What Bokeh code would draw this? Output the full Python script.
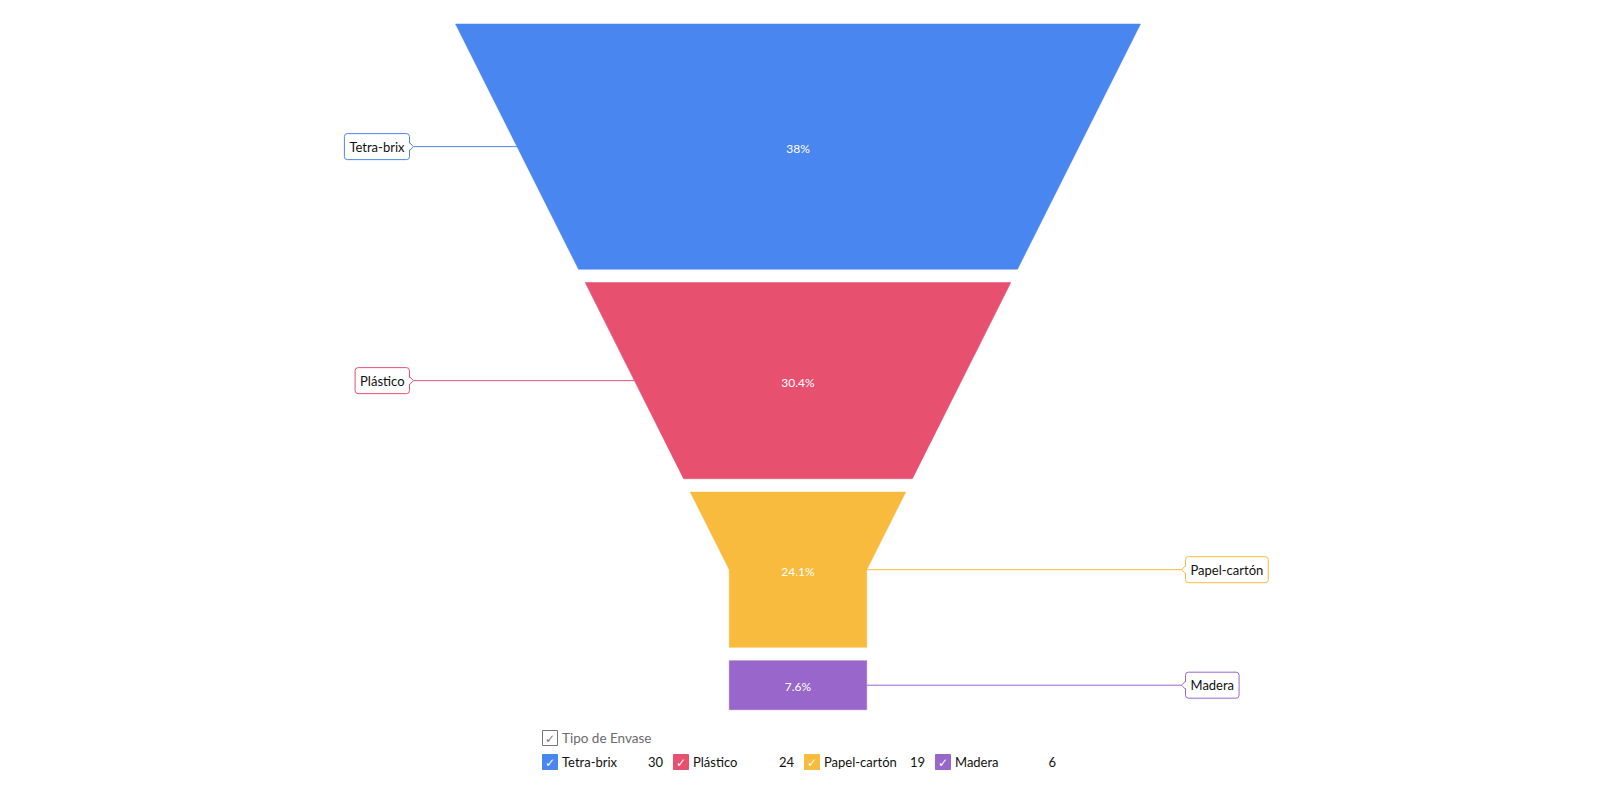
from bokeh.plotting import figure
from bokeh.models import Range1d, Label
from bokeh.embed import file_html
from bokeh.resources import INLINE
from bokeh.core.properties import value

# ---- data ----
categories = ["Tetra-brix", "Plástico", "Papel-cartón", "Madera"]
values = [30, 24, 19, 6]
colors = ["#4a86f0", "#e8506f", "#f9bb3d", "#9966cc"]
legend_title = "Tipo de Envase"

FONT = value("Lato")
W, H = 1600, 785
p = figure(width=W, height=H, x_range=Range1d(0, W), y_range=Range1d(H, 0),
           output_backend="svg", toolbar_location=None, min_border=0,
           x_axis_location=None, y_axis_location=None)
p.grid.visible = False
p.outline_line_color = None
p.background_fill_color = "white"

# ---- funnel geometry (screen-like units) ----
cx = 797.5
top = 23.5
total_h = 685.7
gap = 13.3
top_w = 685.0
neck_w = 137.5
neck_y = 569.3
slope = (top_w - neck_w) / 2 / (neck_y - top)


def half(y):
    return max(neck_w / 2, top_w / 2 - slope * (y - top))


total = sum(values)
avail = total_h - gap * (len(values) - 1)
y = top
for i, (cat, v, col) in enumerate(zip(categories, values, colors)):
    h = avail * v / total
    y0, y1 = y, y + h
    ys = [y0] + ([neck_y] if y0 < neck_y < y1 else []) + [y1]
    px = [cx - half(t) for t in ys] + [cx + half(t) for t in reversed(ys)]
    py = ys + list(reversed(ys))
    p.patch(px, py, fill_color=col, line_color=col, line_width=0.5)

    ym = (y0 + y1) / 2
    pct = v / total * 100
    s = f"{pct:.1f}".rstrip("0").rstrip(".") + "%"
    p.text([cx], [ym + 1.5], text=[s], text_color="white", text_font=FONT,
           text_font_size="12px", text_align="center", text_baseline="middle")

    if i < 2:
        bx = 409.0
        tip = bx + 4
        p.line([tip, cx - half(ym)], [ym, ym], line_color=col, line_width=1)
        lab = Label(x=bx, y=ym, text=cat, text_font="Lato", text_font_size="13px",
                    text_color="#111111", text_align="right", text_baseline="middle",
                    background_fill_color="white", border_line_color=col,
                    border_line_width=1, padding=5, border_radius=3)
        p.add_layout(lab)
        r1 = p.patch([bx - 1, tip, bx - 1], [ym - 4, ym, ym + 4], fill_color="white", line_color=None)
        r2 = p.line([bx, tip, bx], [ym - 4, ym, ym + 4], line_color=col, line_width=1)
    else:
        bx = 1185.0
        tip = bx - 4
        p.line([cx + half(ym), tip], [ym, ym], line_color=col, line_width=1)
        lab = Label(x=bx, y=ym, text=cat, text_font="Lato", text_font_size="13px",
                    text_color="#111111", text_align="left", text_baseline="middle",
                    background_fill_color="white", border_line_color=col,
                    border_line_width=1, padding=5, border_radius=3)
        p.add_layout(lab)
        r1 = p.patch([bx + 1, tip, bx + 1], [ym - 4, ym, ym + 4], fill_color="white", line_color=None)
        r2 = p.line([bx, tip, bx], [ym - 4, ym, ym + 4], line_color=col, line_width=1)
    r1.level = "overlay"
    r2.level = "overlay"
    y = y1 + gap

# ---- legend ----
lx0 = 542.0
step = 131.0
title_y = 737.5
row_y = 761.5
bs = 15

p.rect([lx0 + bs / 2], [title_y], width=bs, height=bs, fill_color="white",
       line_color="#777777", line_width=1)
p.text([lx0 + bs / 2], [title_y + 1], text=["✓"], text_color="#777777",
       text_font=value("DejaVu Sans"), text_font_size="12px",
       text_align="center", text_baseline="middle")
p.text([lx0 + 19.5], [title_y], text=[legend_title], text_color="#6b6b6b",
       text_font=FONT, text_font_size="13.5px", text_align="left", text_baseline="middle")

for i, (cat, v, col) in enumerate(zip(categories, values, colors)):
    x0 = lx0 + i * step
    p.rect([x0 + bs / 2], [row_y], width=bs, height=bs, fill_color=col, line_color=col)
    p.text([x0 + bs / 2], [row_y + 1], text=["✓"], text_color="white",
           text_font=value("DejaVu Sans"), text_font_size="12px",
           text_align="center", text_baseline="middle")
    p.text([x0 + 19.5], [row_y], text=[cat], text_color="#111111", text_font=FONT,
           text_font_size="13px", text_align="left", text_baseline="middle")
    p.text([x0 + 120.5], [row_y], text=[str(v)], text_color="#111111", text_font=FONT,
           text_font_size="13px", text_align="right", text_baseline="middle")

open("out.html", "w").write(file_html(p, INLINE))
